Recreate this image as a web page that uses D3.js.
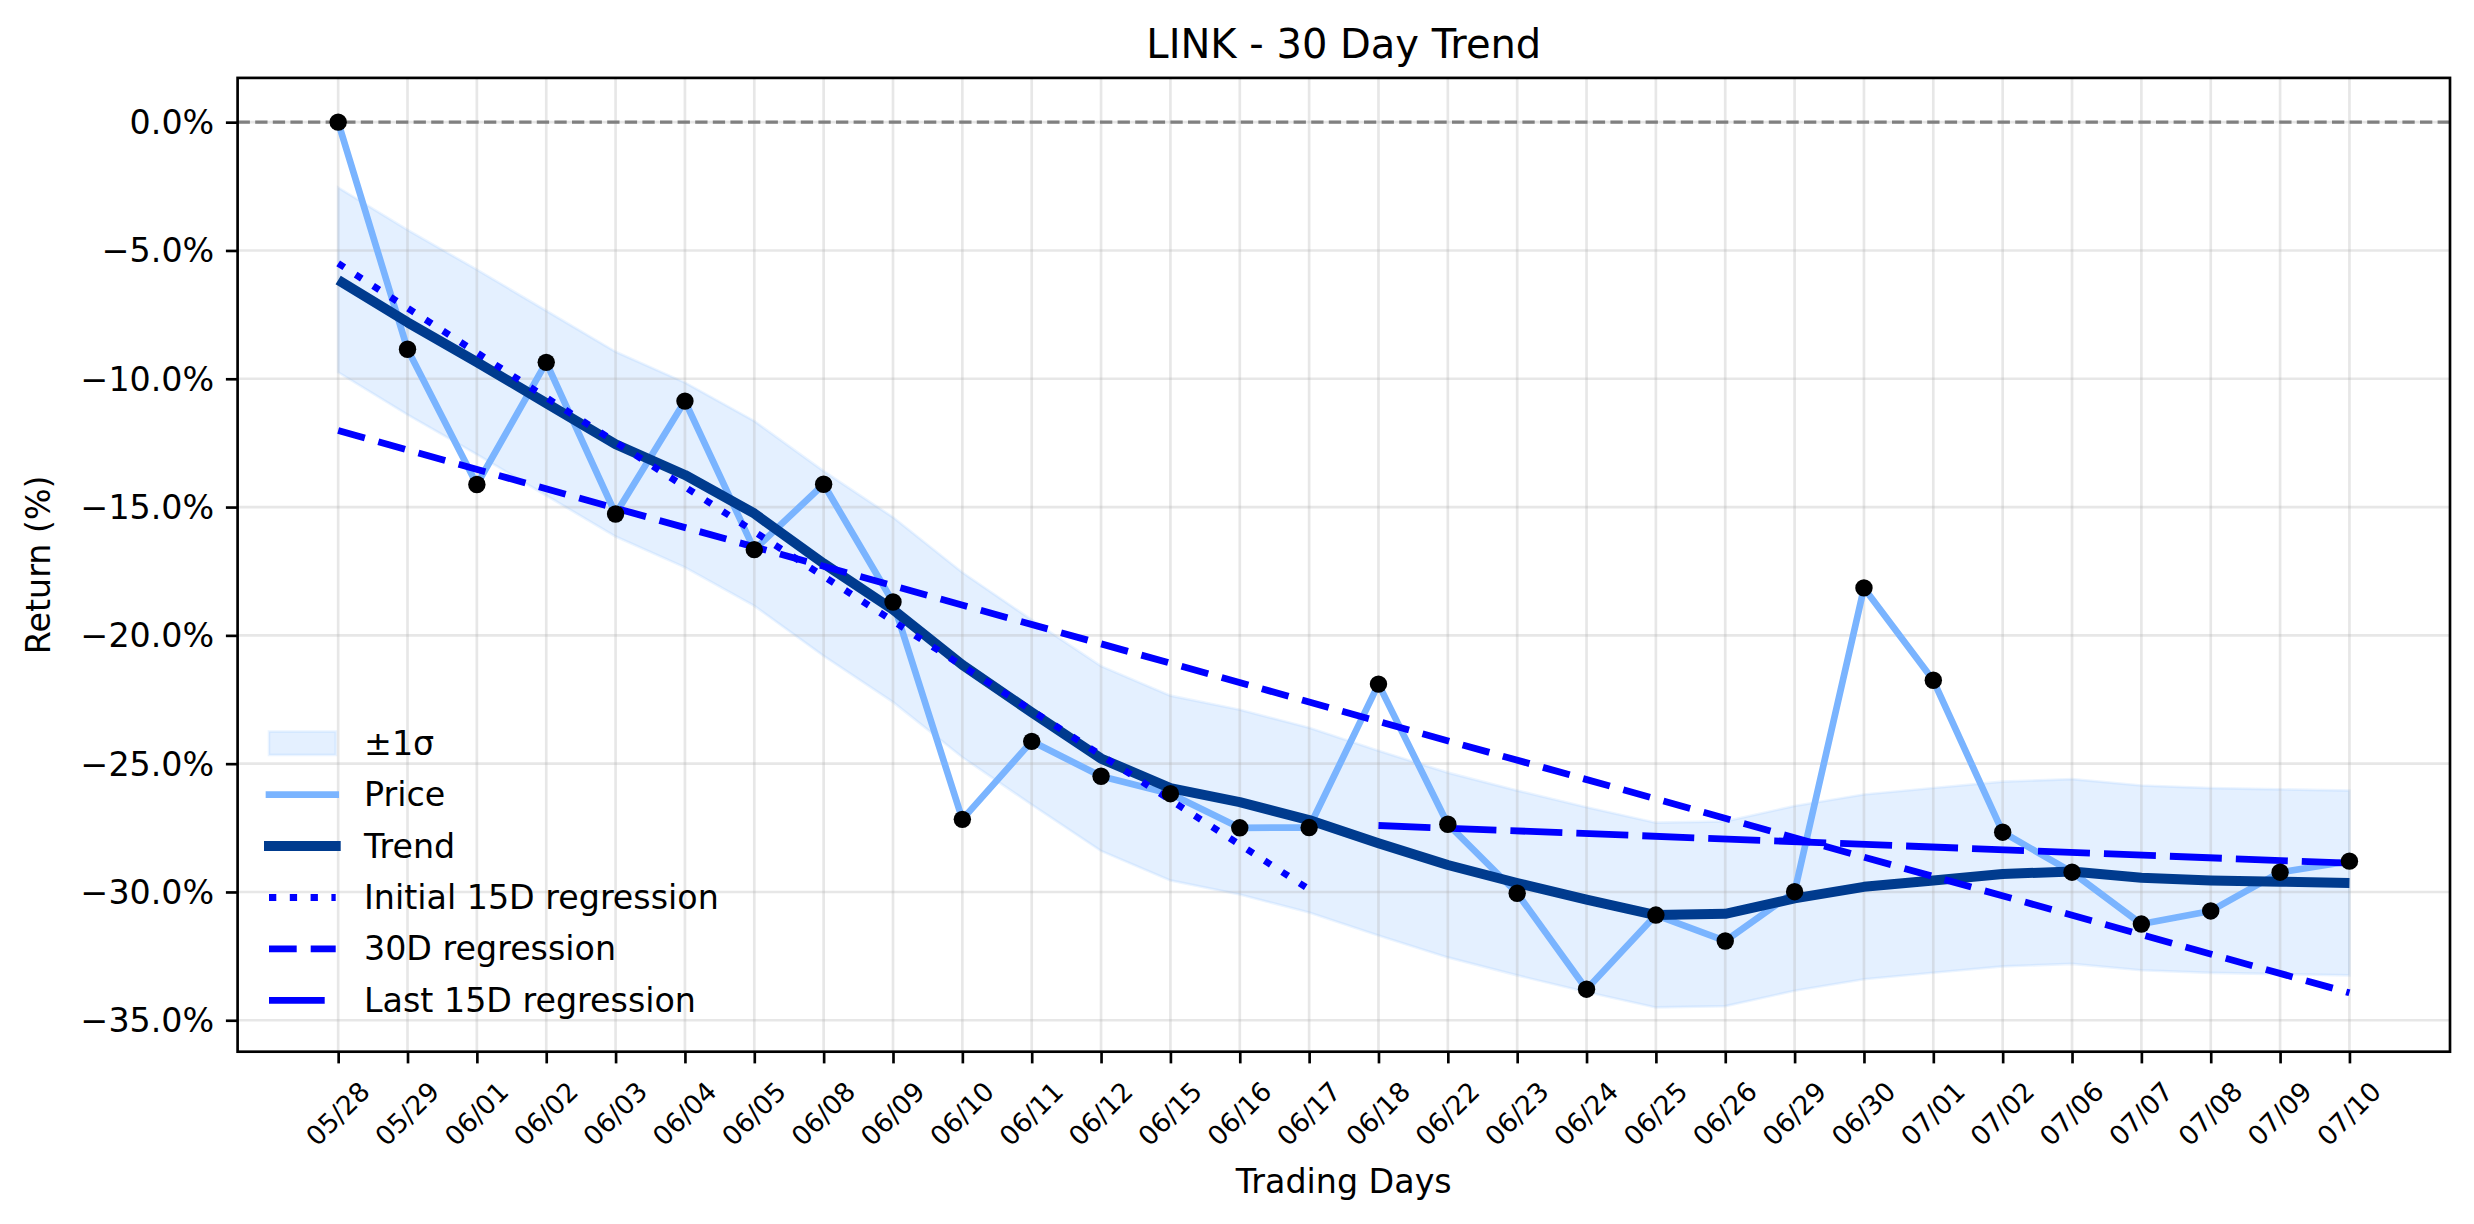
<!DOCTYPE html>
<html>
<head>
<meta charset="utf-8">
<script src="https://cdn.jsdelivr.net/npm/d3@7"></script>
<style>
  body { margin: 0; background: #fff; }
  text { font-family: 'DejaVu Sans', sans-serif; fill: #000; }
</style>
</head>
<body>
<script>
// data
const dates = ['05/28', '05/29', '06/01', '06/02', '06/03', '06/04', '06/05', '06/08', '06/09', '06/10',
  '06/11', '06/12', '06/15', '06/16', '06/17', '06/18', '06/22', '06/23', '06/24', '06/25',
  '06/26', '06/29', '06/30', '07/01', '07/02', '07/06', '07/07', '07/08', '07/09', '07/10']

const price = [0.0, -8.85, -14.12, -9.36, -15.27, -10.87, -16.66, -14.11, -18.7, -27.17,
  -24.13, -25.49, -26.17, -27.5, -27.49, -21.9, -27.36, -30.05, -33.79, -30.9,
  -31.91, -29.99, -18.15, -21.75, -27.67, -29.23, -31.25, -30.74, -29.23, -28.8]

const trend = [-6.15, -7.8, -9.35, -10.95, -12.55, -13.75, -15.25, -17.2, -19.0, -21.15,
  -23.0, -24.8, -25.95, -26.5, -27.2, -28.1, -28.95, -29.65, -30.3, -30.9,
  -30.85, -30.25, -29.8, -29.55, -29.3, -29.2, -29.45, -29.55, -29.6, -29.65]

const bandUpper = [-2.55, -4.2, -5.75, -7.35, -8.95, -10.15, -11.65, -13.6, -15.4, -17.55,
  -19.4, -21.2, -22.35, -22.9, -23.6, -24.5, -25.35, -26.05, -26.7, -27.3,
  -27.25, -26.65, -26.2, -25.95, -25.7, -25.6, -25.85, -25.95, -26.0, -26.05]

const bandLower = [-9.75, -11.4, -12.95, -14.55, -16.15, -17.35, -18.85, -20.8, -22.6, -24.75,
  -26.6, -28.4, -29.55, -30.1, -30.8, -31.7, -32.55, -33.25, -33.9, -34.5,
  -34.45, -33.85, -33.4, -33.15, -32.9, -32.8, -33.05, -33.15, -33.2, -33.25]

const regInitialIdx = [0, 14]
const regInitialVal = [-5.5, -29.9]
const reg30Idx = [0, 29]
const reg30Val = [-12.02, -33.93]
const regLastIdx = [15, 29]
const regLastVal = [-27.41, -28.88]

const yTicks = [0, -5, -10, -15, -20, -25, -30, -35]

const width = 2474
const height = 1224
const plot = { left: 237.6, right: 2450, top: 77.9, bottom: 1051.7 }

const svg = d3.select('body').append('svg')
  .attr('width', width)
  .attr('height', height)

svg.append('rect').attr('width', width).attr('height', height).attr('fill', '#fff')

const n = dates.length
const x = d3.scaleLinear()
  .domain([-(n - 1) * 0.05, (n - 1) * 1.05])
  .range([plot.left, plot.right])

const allVals = price.concat(bandUpper, bandLower, reg30Val, regInitialVal, regLastVal)
const yMin = d3.min(allVals)
const yMax = d3.max(allVals)
const yPad = (yMax - yMin) * 0.05
const y = d3.scaleLinear()
  .domain([yMin - yPad, yMax + yPad])
  .range([plot.bottom, plot.top])

const priceColor = '#7ab4ff'
const trendColor = '#003b8e'
const regColor = '#0000ff'

// band
const band = d3.area()
  .x((d, i) => x(i))
  .y0((d, i) => y(bandLower[i]))
  .y1((d, i) => y(bandUpper[i]))

svg.append('path')
  .attr('d', band(trend))
  .attr('fill', priceColor)
  .attr('fill-opacity', 0.2)
  .attr('stroke', priceColor)
  .attr('stroke-opacity', 0.15)
  .attr('stroke-width', 2.67)

// grid
const grid = svg.append('g')
grid.selectAll('.vg').data(d3.range(n)).join('line')
  .attr('x1', d => x(d)).attr('x2', d => x(d))
  .attr('y1', plot.top).attr('y2', plot.bottom)
  .attr('stroke', '#b0b0b0').attr('stroke-opacity', 0.3).attr('stroke-width', 2.67)
grid.selectAll('.hg').data(yTicks).join('line')
  .attr('x1', plot.left).attr('x2', plot.right)
  .attr('y1', d => y(d)).attr('y2', d => y(d))
  .attr('stroke', '#b0b0b0').attr('stroke-opacity', 0.3).attr('stroke-width', 2.67)

// zero line
svg.append('line')
  .attr('x1', plot.left).attr('x2', plot.right)
  .attr('y1', y(0)).attr('y2', y(0))
  .attr('stroke', '#808080').attr('stroke-width', 3.33)
  .attr('stroke-dasharray', '12.3,5.3')

const line = d3.line()
  .x((d, i) => x(i))
  .y(d => y(d))

svg.append('path')
  .attr('d', line(price))
  .attr('fill', 'none')
  .attr('stroke', priceColor)
  .attr('stroke-width', 6.67)
  .attr('stroke-linejoin', 'round')

svg.append('path')
  .attr('d', line(trend))
  .attr('fill', 'none')
  .attr('stroke', trendColor)
  .attr('stroke-width', 10)
  .attr('stroke-linejoin', 'round')

const regLine = d3.line()
  .x(d => x(d[0]))
  .y(d => y(d[1]))

function drawReg(idx, vals, dash) {
  svg.append('path')
    .attr('d', regLine(d3.zip(idx, vals)))
    .attr('fill', 'none')
    .attr('stroke', regColor)
    .attr('stroke-width', 6.8)
    .attr('stroke-dasharray', dash)
}

drawReg(regInitialIdx, regInitialVal, '7.3,13.5')
drawReg(reg30Idx, reg30Val, '27.7,14')
drawReg(regLastIdx, regLastVal, '52,14')

// points
svg.selectAll('.pt').data(price).join('circle')
  .attr('cx', (d, i) => x(i))
  .attr('cy', d => y(d))
  .attr('r', 8.7)
  .attr('fill', '#000')

// frame
svg.append('rect')
  .attr('x', plot.left).attr('y', plot.top)
  .attr('width', plot.right - plot.left)
  .attr('height', plot.bottom - plot.top)
  .attr('fill', 'none')
  .attr('stroke', '#000')
  .attr('stroke-width', 2.67)

// axes
const xAxis = svg.append('g')
  .attr('transform', `translate(0, ${plot.bottom})`)
  .call(d3.axisBottom(x)
    .tickValues(d3.range(n))
    .tickFormat(i => dates[i])
    .tickSize(11.7)
    .tickSizeOuter(0))
xAxis.select('.domain').remove()
xAxis.selectAll('.tick line').attr('stroke', '#000').attr('stroke-width', 2.67)
xAxis.selectAll('.tick text')
  .attr('y', null)
  .attr('dy', null)
  .attr('font-size', 26.7)
  .attr('font-family', 'DejaVu Sans')
  .attr('fill', '#000')
  .attr('text-anchor', 'middle')
  .attr('dominant-baseline', 'central')
  .attr('transform', 'translate(-1, 62) rotate(-45)')

const yAxis = svg.append('g')
  .attr('transform', `translate(${plot.left}, 0)`)
  .call(d3.axisLeft(y)
    .tickValues(yTicks)
    .tickFormat(d => d3.format('.1f')(d) + '%')
    .tickSize(11.7)
    .tickPadding(11.7)
    .tickSizeOuter(0))
yAxis.select('.domain').remove()
yAxis.selectAll('.tick line').attr('stroke', '#000').attr('stroke-width', 2.67)
yAxis.selectAll('.tick text')
  .attr('dy', null)
  .attr('dominant-baseline', 'central')
  .attr('font-size', 33.3)
  .attr('font-family', 'DejaVu Sans')
  .attr('fill', '#000')

// labels
const midX = (plot.left + plot.right) / 2
svg.append('text')
  .attr('x', midX).attr('y', 58.3)
  .attr('text-anchor', 'middle')
  .attr('font-size', 40)
  .text('LINK - 30 Day Trend')

svg.append('text')
  .attr('x', midX).attr('y', 1181)
  .attr('text-anchor', 'middle')
  .attr('dominant-baseline', 'central')
  .attr('font-size', 33.3)
  .text('Trading Days')

svg.append('text')
  .attr('transform', `translate(38, ${(plot.top + plot.bottom) / 2}) rotate(-90)`)
  .attr('text-anchor', 'middle')
  .attr('dominant-baseline', 'central')
  .attr('font-size', 33.3)
  .text('Return (%)')

// legend
const legendItems = [
  { label: '±1σ', type: 'patch' },
  { label: 'Price', type: 'line', color: priceColor, w: 6.67, dash: null, cap: 'square' },
  { label: 'Trend', type: 'line', color: trendColor, w: 10, dash: null, cap: 'square' },
  { label: 'Initial 15D regression', type: 'line', color: regColor, w: 6.8, dash: '7.3,13.5', cap: 'butt' },
  { label: '30D regression', type: 'line', color: regColor, w: 6.8, dash: '27.7,14', cap: 'butt' },
  { label: 'Last 15D regression', type: 'line', color: regColor, w: 6.8, dash: '55.7,14', cap: 'butt' }
]

const legend = svg.append('g').attr('transform', 'translate(269, 743.3)')
const rowH = 51.4
const handleLen = 66.7

legendItems.forEach((item, i) => {
  const gy = i * rowH
  if (item.type === 'patch') {
    legend.append('rect')
      .attr('x', 0).attr('y', gy - 11.7)
      .attr('width', handleLen).attr('height', 23.3)
      .attr('fill', priceColor).attr('fill-opacity', 0.2)
      .attr('stroke', priceColor).attr('stroke-opacity', 0.15)
      .attr('stroke-width', 2.67)
  } else {
    legend.append('line')
      .attr('x1', 0).attr('x2', handleLen)
      .attr('y1', gy).attr('y2', gy)
      .attr('stroke', item.color)
      .attr('stroke-width', item.w)
      .attr('stroke-linecap', item.cap)
      .attr('stroke-dasharray', item.dash)
  }
  legend.append('text')
    .attr('x', 95).attr('y', gy)
    .attr('dominant-baseline', 'central')
    .attr('font-size', 33.3)
    .text(item.label)
})
</script>
</body>
</html>
